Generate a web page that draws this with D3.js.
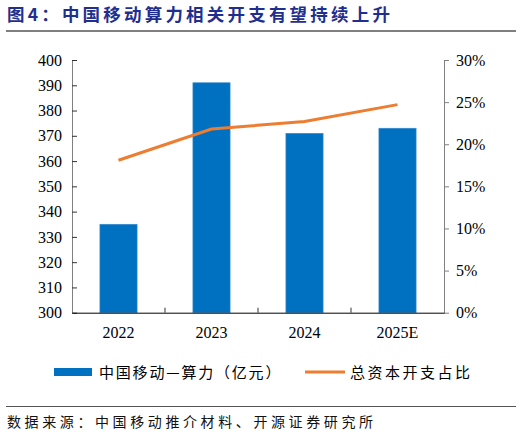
<!DOCTYPE html>
<html><head><meta charset="utf-8">
<script src="https://cdn.jsdelivr.net/npm/d3@7/dist/d3.min.js"></script>
<style>body{margin:0;background:#fff}svg{display:block}</style>
</head><body>
<script>
const categories = ["2022", "2023", "2024", "2025E"];
const computeSpend = [335, 391, 371, 373];
const capexShare = [0.181, 0.218, 0.227, 0.247];
const leftTicks = [300, 310, 320, 330, 340, 350, 360, 370, 380, 390, 400];
const rightTicks = [0, 0.05, 0.10, 0.15, 0.20, 0.25, 0.30];
const titleText = "图4：中国移动算力相关开支有望持续上升";
const legendLabels = ["中国移动—算力（亿元）", "总资本开支占比"];
const sourceText = "数据来源：中国移动推介材料、开源证券研究所";

const W = 522, H = 437;
const m = {l: 72, r: 444, t: 60, b: 312.7};
const serif = "'Liberation Serif','Times New Roman',serif";
const cjk = "'Noto Sans CJK SC',sans-serif";

const svg = d3.select("body").append("svg").attr("width", W).attr("height", H);

svg.append("text").attr("x", 7).attr("y", 21).attr("fill", "#1F2F8F")
  .attr("font-family", cjk).attr("font-weight", "bold").attr("font-size", 17.5)
  .attr("letter-spacing", 3.2)
  .text(titleText);
svg.append("line").attr("x1", 6).attr("x2", 516).attr("y1", 31).attr("y2", 31)
  .attr("stroke", "#000").attr("stroke-width", 1);

const x = d3.scaleBand().domain(categories).range([m.l, m.r]).paddingInner(0).paddingOuter(0);
const yL = d3.scaleLinear().domain([300, 400]).range([m.b, m.t]);
const yR = d3.scaleLinear().domain([0, 0.30]).range([m.b, m.t]);

const barW = x.bandwidth() * 0.4;
svg.append("g").selectAll("rect").data(categories).join("rect")
  .attr("x", (d) => x(d) + x.bandwidth() / 2 - barW / 2)
  .attr("width", barW)
  .attr("y", (d, i) => yL(computeSpend[i]))
  .attr("height", (d, i) => m.b - yL(computeSpend[i]))
  .attr("fill", "#0070C0").attr("stroke", "#3d8fd0").attr("stroke-width", 0.6);

// left axis
const gL = svg.append("g").attr("transform", `translate(${m.l},0)`)
  .call(d3.axisLeft(yL).tickValues(leftTicks).tickSizeInner(-5).tickSizeOuter(0).tickPadding(10));
gL.select(".domain").attr("stroke", "#808080");
gL.selectAll(".tick line").attr("stroke", "#333");
gL.selectAll("text").attr("font-family", serif).attr("font-size", 16).attr("fill", "#000");

// right axis
const gR = svg.append("g").attr("transform", `translate(${m.r},0)`)
  .call(d3.axisRight(yR).tickValues(rightTicks).tickFormat(d3.format(".0%")).tickSizeInner(5).tickSizeOuter(0).tickPadding(7));
gR.select(".domain").attr("stroke", "#808080");
gR.selectAll(".tick line").attr("stroke", "#808080");
gR.selectAll("text").attr("font-family", serif).attr("font-size", 16).attr("fill", "#000");

// bottom axis
const gB = svg.append("g").attr("transform", `translate(0,${m.b})`)
  .call(d3.axisBottom(x).tickSize(0).tickPadding(14));
gB.select(".domain").attr("stroke", "#000");
gB.selectAll("text").attr("font-family", serif).attr("font-size", 16).attr("fill", "#000");
svg.append("g").selectAll("line").data(categories.slice(1)).join("line")
  .attr("x1", (d) => x(d)).attr("x2", (d) => x(d))
  .attr("y1", m.b - 5).attr("y2", m.b).attr("stroke", "#333");

// line
const line = d3.line().x((d, i) => x(categories[i]) + x.bandwidth() / 2).y((d) => yR(d));
svg.append("path").datum(capexShare).attr("d", line)
  .attr("fill", "none").attr("stroke", "#ED7D31").attr("stroke-width", 3);

// legend
const ly = 372;
svg.append("rect").attr("x", 54).attr("y", ly - 4).attr("width", 38).attr("height", 8).attr("fill", "#0070C0");
svg.append("text").attr("x", 99).attr("y", ly + 5.5).attr("font-family", cjk).attr("font-size", 15)
  .attr("letter-spacing", 1.8).text(legendLabels[0]);
svg.append("line").attr("x1", 305).attr("x2", 345).attr("y1", ly).attr("y2", ly)
  .attr("stroke", "#ED7D31").attr("stroke-width", 3);
svg.append("text").attr("x", 350).attr("y", ly + 5.5).attr("font-family", cjk).attr("font-size", 15)
  .attr("letter-spacing", 2.5).text(legendLabels[1]);

svg.append("line").attr("x1", 6).attr("x2", 516).attr("y1", 406.5).attr("y2", 406.5)
  .attr("stroke", "#555").attr("stroke-width", 1);
svg.append("text").attr("x", 7).attr("y", 427).attr("font-family", cjk).attr("font-size", 14)
  .attr("letter-spacing", 3.6).attr("fill", "#111").text(sourceText);
</script>
</body></html>
